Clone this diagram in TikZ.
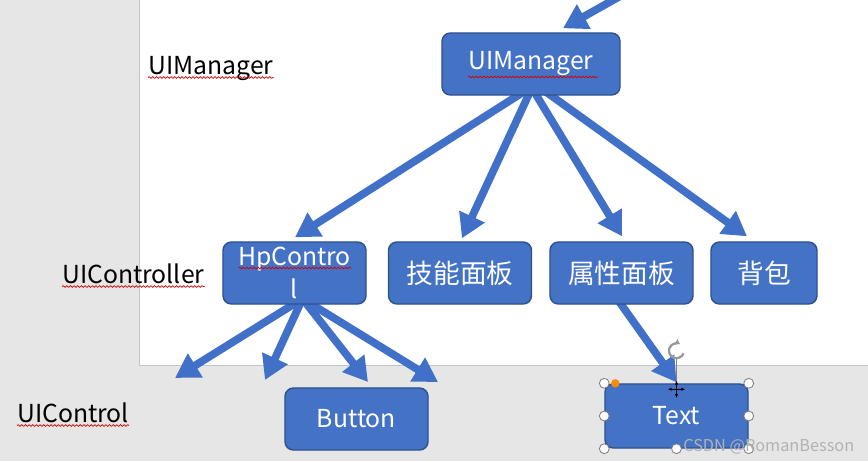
\documentclass[tikz,border=0pt]{standalone}
\usepackage{fontspec}
\setmainfont{Noto Sans CJK SC}
\usetikzlibrary{arrows.meta, calc, decorations.pathmorphing}
\definecolor{boxFill}{RGB}{68,114,196}
\definecolor{boxLine}{RGB}{47,82,143}
\definecolor{arrowBlue}{RGB}{64,112,200}
\definecolor{paneGray}{RGB}{230,230,230}
\definecolor{slideEdge}{RGB}{196,196,196}
\pgfdeclarelayer{back}
\pgfdeclarelayer{links}
\pgfsetlayers{back,links,main}

\begin{document}
\begin{tikzpicture}[
  x=0.025cm, y=-0.025cm,
  font=\fontsize{17.6}{24}\selectfont,
  box/.style={draw=boxLine, line width=1pt, fill=boxFill, rounded corners=6pt, text=white, align=center, minimum width=3.575cm, minimum height=1.55cm, inner sep=0pt},
  cjk/.style={font=\fontsize{19}{24}\selectfont},
  arr/.style={-{Triangle[length=17pt,width=19pt]}, line width=5.5pt, draw=arrowBlue},
  lvl/.style={anchor=base west, inner sep=0pt},
  squiggle/.style={draw=red!85!black, line width=0.5pt, decorate, decoration={snake, amplitude=0.6pt, segment length=2.6pt}},
  handle/.style={circle, draw=gray, fill=white, line width=0.6pt, minimum size=7pt, inner sep=0pt}
]
\useasboundingbox (0,0) rectangle (868,461);
\clip (0,0) rectangle (868,461);

% window and slide
\begin{pgfonlayer}{back}
\fill[paneGray] (0,0) rectangle (868,461);
\fill[white] (139,0) rectangle (868,365);
\draw[slideEdge, line width=0.6pt] (139,-2) -- (139,365) -- (870,365);
\end{pgfonlayer}

% level labels
\node[lvl] (lblMgr)  at (148,74)  {UIManager};
\node[lvl] (lblCtrl) at (62,283)  {UIController};
\node[lvl] (lblCtl)  at (17,422)  {UIControl};

% boxes
\node[box, minimum width=4.45cm] (mgr) at (531,64) {UIManager};
\node[box] (hp)    at (294.5,273) {HpContro\\l};
\node[box, cjk] (skill) at (460,273)   {技能面板};
\node[box, cjk] (attr)  at (621.5,273) {属性面板};
\node[box, cjk, minimum width=2.65cm] (bag) at (764,273) {背包};
\node[box] (button) at (356.5,419) {Button};
\node[box, minimum height=1.6cm] (txt) at (676.5,416) {Text};

% spell-check marks
\draw[squiggle] ([yshift=-2.5pt]lblMgr.base west) -- ([yshift=-2.5pt]lblMgr.base east);
\draw[squiggle] ([yshift=-2.5pt]lblCtrl.base west) -- ([yshift=-2.5pt]lblCtrl.base east);
\draw[squiggle] ([yshift=-2.5pt]lblCtl.base west) -- ([yshift=-2.5pt]lblCtl.base east);
\draw[squiggle] ($(mgr.center)+(-63,13)$) -- ($(mgr.center)+(67,13)$);
\draw[squiggle] ($(hp.center)+(-56,-5)$) -- ($(hp.center)+(57,-5)$);

% free arrow ends
\coordinate (inFrom) at (640,-15);
\coordinate (c1) at (175,378);
\coordinate (c2) at (265,380);
\coordinate (c3) at (368,382);
\coordinate (c4) at (438,382);

\begin{pgfonlayer}{links}
\draw[arr] (inFrom) -- ($(mgr.north)+(32,-4)$);
% UIManager -> controllers
\draw[arr] ($(mgr.south)+(-4,-6)$) -- ($(hp.north)+(0.5,-4)$);
\draw[arr] ($(mgr.south)+(0,-6)$) -- ($(skill.north)+(2,-3)$);
\draw[arr] ($(mgr.south)+(2,-6)$) -- ($(attr.north)+(0.5,-5)$);
\draw[arr] ($(mgr.south)+(12,-6)$) -- ($(bag.north)+(-17,-5)$);
% HpControl -> controls
\foreach \c in {c1,c2,c3,c4}
  \draw[arr] ($(hp.south)+(8,-6)$) -- (\c);
\draw[arr] ($(attr.south)+(-3,-4)$) -- ($(txt.north)+(0,-1)$);
\end{pgfonlayer}

% selection of the Text box
\draw[gray, line width=0.6pt] (txt.north) -- ++(0,-26);
\draw[gray!80, line width=1.6pt, -{Latex[length=3.5pt,width=5pt]}] ($(txt.north)+(7,-30)$) arc[start angle=20, end angle=300, radius=7.5];
\foreach \a/\n in {north west/hnw, north east/hne, west/hw, east/he, south west/hsw, south/hs, south east/hse}
  \node[handle] (\n) at (txt.\a) {};
\node[circle, fill=orange!90!yellow, minimum size=6pt, inner sep=0pt] (hdot) at ($(txt.north west)+(11,0)$) {};
\draw[black, line width=0.9pt, {Latex[length=3pt]}-{Latex[length=3pt]}] ($(txt.north)+(-9,6)$) -- ($(txt.north)+(9,6)$);
\draw[black, line width=0.9pt, {Latex[length=3pt]}-{Latex[length=3pt]}] ($(txt.north)+(0,-3)$) -- ($(txt.north)+(0,15)$);

% watermark
\node[anchor=base west, inner sep=0pt, text=black!30, font=\fontsize{11.6}{14}\selectfont] (mark) at (683,451) {CSDN @RomanBesson};

\end{tikzpicture}
\end{document}
